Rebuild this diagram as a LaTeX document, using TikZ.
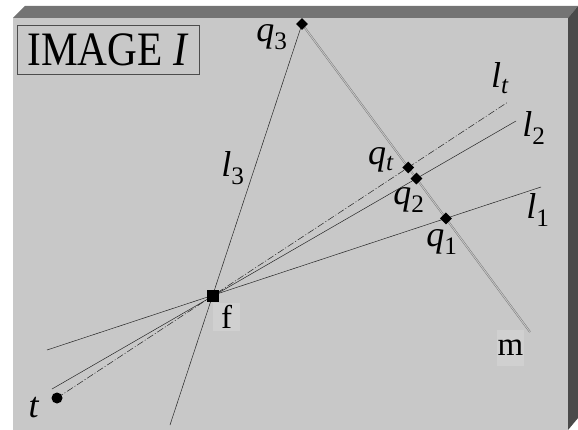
\documentclass[tikz,border=0pt]{standalone}
\usepackage{fontspec}
\setmainfont{Liberation Serif}
\usetikzlibrary{shapes.geometric, positioning, backgrounds}
\definecolor{FaceGray}{HTML}{C8C8C8}
\definecolor{TopGray}{HTML}{747474}
\definecolor{SideGray}{HTML}{4A4A4A}
\definecolor{TagGray}{HTML}{D0D0D0}
\newcommand{\lab}[2]{\textit{#1}\textsubscript{#2}}
\tikzset{
    ray/.style={draw=black!85, line width=0.5pt},
    traceray/.style={ray, dash pattern=on 7pt off 2pt on 1pt off 2pt},
    mline/.style={draw=black!55, double=black!22, double distance=0.9pt, line width=0.45pt},
    qpt/.style={diamond, fill=black, inner sep=0pt, minimum size=12pt},
    fpt/.style={rectangle, fill=black, inner sep=0pt, minimum size=12.5pt},
    tpt/.style={circle, fill=black, inner sep=0pt, minimum size=11pt},
    lbl/.style={font=\fontsize{36}{36}\selectfont, inner sep=0pt},
    tag/.style={fill=TagGray, font=\fontsize{33}{33}\selectfont, inner sep=0pt, minimum width=27pt}
}
\begin{document}
\begin{tikzpicture}[x=1pt, y=-1pt]
    \useasboundingbox (0,0) rectangle (578,430);

    % line ends
    \coordinate (mEnd) at (530,332);
    \coordinate (l1A) at (47,350);
    \coordinate (l1B) at (541,187);
    \coordinate (l2A) at (52,389);
    \coordinate (l2B) at (516,121);
    \coordinate (ltB) at (508,102);
    \coordinate (l3A) at (170,425);

    \node[fpt] (f) at (213,296) {};
    \node[qpt] (q3) at (302,24) {};
    \node[tpt] (t) at (57,398) {};
    \node[qpt] (qt) at (intersection of q3--mEnd and t--ltB) {};
    \node[qpt] (q2) at (intersection of q3--mEnd and l2A--l2B) {};
    \node[qpt] (q1) at (intersection of q3--mEnd and l1A--l1B) {};

    \node[draw=black!70, line width=0.6pt, minimum width=182pt, minimum height=49pt, inner sep=0pt,
          font=\fontsize{48}{48}\selectfont] (title) at (108,50) {\scalebox{0.86}[1]{IMAGE \textit{I}}};

    \node[lbl] (q3lab) at (272,37) {\lab{q}{3}};
    \node[lbl] (qtlab) at (381,160) {\lab{q}{\textit{t}}};
    \node[lbl] (q2lab) at (409,200) {\lab{q}{2}};
    \node[lbl] (q1lab) at (442,242) {\lab{q}{1}};
    \node[lbl] (l3lab) at (233,168) {\lab{l}{3}};
    \node[lbl] (ltlab) at (500,78) {\lab{l}{\textit{t}}};
    \node[lbl] (l2lab) at (534,128) {\lab{l}{2}};
    \node[lbl] (l1lab) at (538,210) {\lab{l}{1}};
    \node[lbl] (tlab) at (34,408) {\textit{t}};
    \node[tag, minimum height=28pt] (flab) at (226.5,317) {f};
    \node[tag, minimum height=36pt] (mlab) at (510.5,348) {m};

    \begin{scope}[on background layer]
        \fill[FaceGray] (13,18) rectangle (568,430);
        \fill[TopGray] (13,18) -- (25,6) -- (578,6) -- (568,18) -- cycle;
        \fill[SideGray] (568,18) -- (578,6) -- (578,418) -- (568,430) -- cycle;
        \draw[ray] (l1A) -- (l1B);
        \draw[ray] (l2A) -- (l2B);
        \draw[ray] (l3A) -- (q3.center);
        \draw[traceray] (t.center) -- (ltB);
        \draw[mline] (q3.center) -- (mEnd);
    \end{scope}
\end{tikzpicture}
\end{document}
